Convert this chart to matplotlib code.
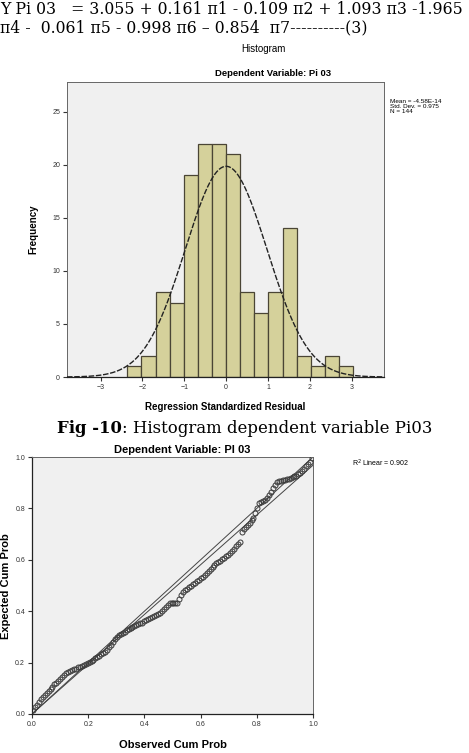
import matplotlib
matplotlib.use('Agg')
import matplotlib.pyplot as plt
import numpy as np

matplotlib.rcParams['font.family'] = 'Liberation Sans'

W, H = 469, 753

# histogram of regression standardized residual (Pi 03)
bin_edges = [-2.359, -2.022, -1.685, -1.348, -1.011, -0.674, -0.337, 0.0, 0.337,
             0.674, 1.011, 1.348, 1.685, 2.022, 2.359, 2.696, 3.033]
counts = [1, 2, 8, 7, 19, 22, 22, 21, 8, 6, 8, 14, 2, 1, 2, 1]
res_mean = -4.58e-14
res_sd = 0.975
res_n = 144
hist_xticks = [-3, -2, -1, 0, 1, 2, 3]
hist_yticks = [0, 5, 10, 15, 20, 25]

# normal P-P plot
obs_cum = [0.0035, 0.0104, 0.0174, 0.0243, 0.0313, 0.0382, 0.0451, 0.0521, 0.0590, 0.0660,
           0.0729, 0.0799, 0.0868, 0.0938, 0.1007, 0.1076, 0.1146, 0.1215, 0.1285, 0.1354,
           0.1424, 0.1493, 0.1563, 0.1632, 0.1701, 0.1771, 0.1840, 0.1910, 0.1979, 0.2049,
           0.2118, 0.2188, 0.2257, 0.2326, 0.2396, 0.2465, 0.2535, 0.2604, 0.2674, 0.2743,
           0.2813, 0.2882, 0.2951, 0.3021, 0.3090, 0.3160, 0.3229, 0.3299, 0.3368, 0.3438,
           0.3507, 0.3576, 0.3646, 0.3715, 0.3785, 0.3854, 0.3924, 0.3993, 0.4063, 0.4132,
           0.4201, 0.4271, 0.4340, 0.4410, 0.4479, 0.4549, 0.4618, 0.4688, 0.4757, 0.4826,
           0.4896, 0.4965, 0.5035, 0.5104, 0.5174, 0.5243, 0.5313, 0.5382, 0.5451, 0.5521,
           0.5590, 0.5660, 0.5729, 0.5799, 0.5868, 0.5938, 0.6007, 0.6076, 0.6146, 0.6215,
           0.6285, 0.6354, 0.6424, 0.6493, 0.6563, 0.6632, 0.6701, 0.6771, 0.6840, 0.6910,
           0.6979, 0.7049, 0.7118, 0.7188, 0.7257, 0.7326, 0.7396, 0.7465, 0.7535, 0.7604,
           0.7674, 0.7743, 0.7813, 0.7882, 0.7951, 0.8021, 0.8090, 0.8160, 0.8229, 0.8299,
           0.8368, 0.8438, 0.8507, 0.8576, 0.8646, 0.8715, 0.8785, 0.8854, 0.8924, 0.8993,
           0.9063, 0.9132, 0.9201, 0.9271, 0.9340, 0.9410, 0.9479, 0.9549, 0.9618, 0.9688,
           0.9757, 0.9826, 0.9896, 0.9965]
exp_cum = [0.016, 0.026, 0.036, 0.047, 0.057, 0.067, 0.075, 0.083, 0.091, 0.099,
           0.107, 0.115, 0.122, 0.130, 0.137, 0.145, 0.153, 0.160, 0.163, 0.167,
           0.170, 0.174, 0.177, 0.181, 0.184, 0.188, 0.191, 0.195, 0.199, 0.202,
           0.206, 0.210, 0.216, 0.221, 0.227, 0.232, 0.238, 0.243, 0.249, 0.259,
           0.270, 0.280, 0.291, 0.301, 0.306, 0.310, 0.315, 0.320, 0.325, 0.329,
           0.334, 0.338, 0.341, 0.345, 0.349, 0.353, 0.356, 0.360, 0.364, 0.368,
           0.372, 0.376, 0.380, 0.384, 0.388, 0.392, 0.400, 0.408, 0.415, 0.423,
           0.431, 0.431, 0.432, 0.432, 0.433, 0.447, 0.462, 0.476, 0.482, 0.488,
           0.493, 0.499, 0.505, 0.511, 0.516, 0.522, 0.528, 0.535, 0.542, 0.550,
           0.557, 0.564, 0.571, 0.579, 0.586, 0.592, 0.597, 0.603, 0.608, 0.614,
           0.619, 0.625, 0.634, 0.643, 0.652, 0.661, 0.670, 0.709, 0.719, 0.729,
           0.737, 0.745, 0.753, 0.761, 0.781, 0.800, 0.820, 0.825, 0.829, 0.834,
           0.839, 0.852, 0.865, 0.878, 0.891, 0.904, 0.906, 0.908, 0.910, 0.911,
           0.913, 0.915, 0.917, 0.921, 0.925, 0.928, 0.932, 0.936, 0.945, 0.954,
           0.964, 0.973, 0.982, 0.998]
ref_x = [0.0, 1.0]
ref_y = [0.0, 1.0]
fit_y = [0.0, 0.968]
pp_ticks = [0.0, 0.2, 0.4, 0.6, 0.8, 1.0]
r2_text = 'R$^2$ Linear = 0.902'

eq_line1 = 'Y Pi 03   = 3.055 + 0.161 π1 - 0.109 π2 + 1.093 π3 -1.965'
eq_line2 = 'π4 -  0.061 π5 - 0.998 π6 – 0.854  π7----------(3)'
cap_bold = 'Fig -10'
cap_rest = ': Histogram dependent variable Pi03'


def fx(px):
    return px / W


def fy(py):
    return 1 - py / H


fig = plt.figure(figsize=(W / 100, H / 100), dpi=100)
fig.patch.set_facecolor('white')

serif = ['DejaVu Serif']
fig.text(fx(0), fy(10), eq_line1, family=serif, fontsize=11.3, ha='left', va='center')
fig.text(fx(0), fy(28), eq_line2, family=serif, fontsize=11.3, ha='left', va='center')
fig.text(fx(263), fy(49), 'Histogram', fontsize=7, ha='center', va='center')

# ---- histogram ----
ax = fig.add_axes([fx(67), fy(377), fx(384) - fx(67), fy(82) - fy(377)])
ax.set_facecolor('#f0f0f0')
ax.bar(bin_edges[:-1], counts, width=np.diff(bin_edges), align='edge',
       color='#d5d19b', edgecolor='#4a4535', linewidth=0.9, zorder=2)

xs = np.linspace(-3.8, 3.77, 400)
bw = bin_edges[1] - bin_edges[0]
curve = res_n * bw * np.exp(-0.5 * ((xs - res_mean) / res_sd) ** 2) / (res_sd * np.sqrt(2 * np.pi))
ax.plot(xs, curve, color='#222222', lw=1.0, linestyle=(0, (4, 1.2)), zorder=3)

ax.set_xlim(-3.8, 3.77)
ax.set_ylim(0, 27.8)
ax.set_xticks(hist_xticks)
ax.set_yticks(hist_yticks)
ax.tick_params(labelsize=5, length=3, width=0.8, colors='#333333', pad=2)
for s in ['top', 'right', 'left']:
    ax.spines[s].set_color('#666666')
    ax.spines[s].set_linewidth(0.7)
ax.spines['bottom'].set_color('#222222')
ax.spines['bottom'].set_linewidth(0.9)
ax.set_xlabel('Regression Standardized Residual', fontsize=7, fontweight='bold', labelpad=8)
ax.set_ylabel('Frequency', fontsize=7, fontweight='bold', labelpad=10)
ax.set_title('Dependent Variable: Pi 03', fontsize=6.8, fontweight='bold', x=0.65, pad=4)

stats = 'Mean = %.2E\nStd. Dev. = %.3f\nN = %d' % (res_mean, res_sd, res_n)
fig.text(fx(390), fy(99), stats, fontsize=4.6, ha='left', va='top', linespacing=1.0)

# caption: bold part then regular part, placed side by side
renderer = fig.canvas.get_renderer()
t1 = fig.text(fx(57), fy(428), cap_bold, family=serif, fontsize=11.9, fontweight='bold',
              ha='left', va='center')
bb = t1.get_window_extent(renderer)
fig.text(bb.x1 / W, fy(428), cap_rest, family=serif, fontsize=11.9, ha='left', va='center')

# ---- P-P plot ----
ax2 = fig.add_axes([fx(32), fy(714), fx(313) - fx(32), fy(457) - fy(714)])
ax2.set_facecolor('#f0f0f0')
ax2.plot(ref_x, ref_y, color='#444444', lw=0.7, zorder=2)
ax2.plot(ref_x, fit_y, color='#444444', lw=0.7, zorder=2)
ax2.plot(obs_cum, exp_cum, 'o', ms=3.6, mfc='none', mec='#3a3a3a', mew=0.7, zorder=3)
ax2.set_xlim(0, 1)
ax2.set_ylim(0, 1)
ax2.set_xticks(pp_ticks)
ax2.set_yticks(pp_ticks)
ax2.set_xticklabels(['%.1f' % t for t in pp_ticks])
ax2.set_yticklabels(['%.1f' % t for t in pp_ticks])
ax2.tick_params(labelsize=5, length=3, width=0.8, colors='#333333', pad=2)
for s in ['top', 'right']:
    ax2.spines[s].set_color('#666666')
    ax2.spines[s].set_linewidth(0.7)
for s in ['bottom', 'left']:
    ax2.spines[s].set_color('#222222')
    ax2.spines[s].set_linewidth(0.9)
ax2.set_title('Dependent Variable: PI 03', fontsize=8, fontweight='bold', x=0.535, pad=3)
ax2.set_xlabel('Observed Cum Prob', fontsize=8, fontweight='bold', labelpad=9)
fig.text(fx(6), fy(586), 'Expected Cum Prob', fontsize=8, fontweight='bold',
         rotation=90, ha='center', va='center')
fig.text(fx(352), fy(463), r2_text, fontsize=5, ha='left', va='center')

fig.savefig('out.png', dpi=100)
